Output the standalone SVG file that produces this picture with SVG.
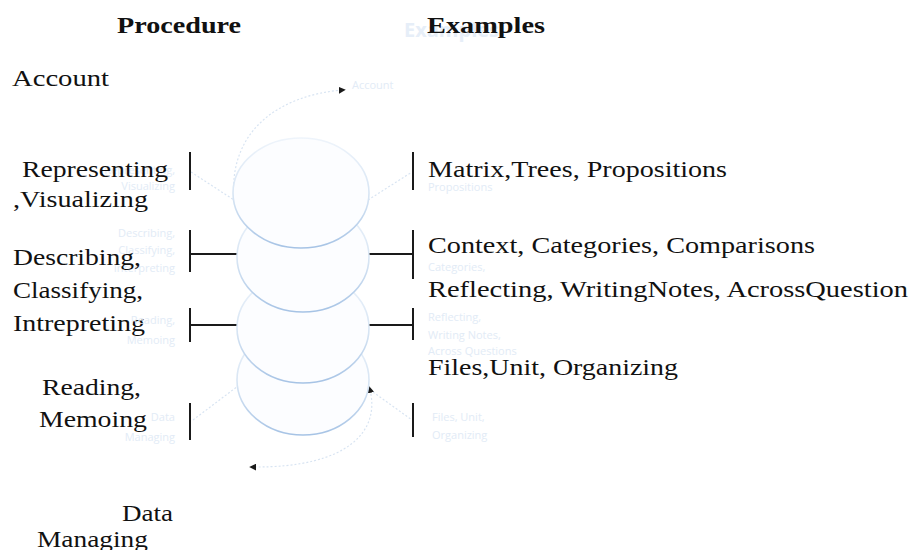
<svg xmlns="http://www.w3.org/2000/svg" width="911" height="550" viewBox="0 0 911 550">
  <defs>
    <linearGradient id="rim" x1="0" y1="0" x2="0" y2="1">
      <stop offset="0" stop-color="#eef4fb"/>
      <stop offset="0.55" stop-color="#d6e4f3"/>
      <stop offset="1" stop-color="#a6c3e5"/>
    </linearGradient>
    <marker id="tri" viewBox="0 0 10 10" refX="6" refY="5" markerWidth="7" markerHeight="7" orient="auto" markerUnits="userSpaceOnUse">
      <path d="M0,0 L10,5 L0,10 z" fill="#1a1a1a"/>
    </marker>
    <marker id="triStart" viewBox="0 0 10 10" refX="4" refY="5" markerWidth="7" markerHeight="7" orient="auto-start-reverse" markerUnits="userSpaceOnUse">
      <path d="M0,0 L10,5 L0,10 z" fill="#1a1a1a"/>
    </marker>
  </defs>
  <style>
    .t { font-family: "Liberation Serif", "Times New Roman", serif; font-size: 24px; fill: #111; }
    .h { font-family: "Liberation Serif", "Times New Roman", serif; font-size: 24px; font-weight: bold; fill: #111; }
    .g { font-family: "Open Sans", "Liberation Sans", sans-serif; font-size: 11px; fill: #e2ebf6; }
    .gl { text-anchor: end; }
    .disc { fill: #fcfdff; stroke: url(#rim); stroke-width: 1.6; }
    .bar { stroke: #1a1a1a; stroke-width: 2; fill: none; }
    .dot { stroke: #d8e4f2; stroke-width: 1.2; fill: none; stroke-dasharray: 2 2; }
  </style>
  <rect width="911" height="550" fill="#ffffff"/>

  <!-- column headings -->
  <g id="headings">
    <text class="g" x="404" y="37" style="font-size:20px;font-weight:bold;fill:#e6eef8">Examples</text>
    <text class="h" x="117" y="33" textLength="124" lengthAdjust="spacingAndGlyphs">Procedure</text>
    <text class="h" x="427" y="33" textLength="118" lengthAdjust="spacingAndGlyphs">Examples</text>
  </g>

  <!-- connectors: feedback arcs, level ticks, leader lines -->
  <g id="connectors">
    <path class="dot" d="M234 200 C228 130 280 95 343 90" marker-end="url(#tri)"/>
    <path class="dot" d="M370 390 C380 430 350 468 252 467" marker-start="url(#triStart)" marker-end="url(#tri)"/>
    <path class="dot" d="M191 172 L234 200"/>
    <path class="dot" d="M368 200 L412 172"/>
    <path class="dot" d="M193 420 L238 386"/>
    <path class="dot" d="M373 392 L412 420"/>
    <!-- left ticks -->
    <path class="bar" d="M190 152 V190"/>
    <path class="bar" d="M190 230 V272 M190 254 H237"/>
    <path class="bar" d="M190 308 V342 M190 325 H237"/>
    <path class="bar" d="M190 403 V440"/>
    <!-- right ticks -->
    <path class="bar" d="M413 152 V190"/>
    <path class="bar" d="M413 230 V279 M366 254 H413"/>
    <path class="bar" d="M413 308 V340 M366 325 H413"/>
    <path class="bar" d="M413 403 V437"/>
  </g>

  <!-- stacked discs, lowest drawn first -->
  <g id="discs">
    <ellipse class="disc" cx="303" cy="380" rx="66" ry="55"/>
    <ellipse class="disc" cx="303" cy="328" rx="66" ry="55"/>
    <ellipse class="disc" cx="303" cy="257" rx="66" ry="55"/>
    <ellipse class="disc" cx="301" cy="193" rx="68" ry="55"/>
  </g>

  <g id="node-account">
    <text class="t" x="12" y="86" textLength="97" lengthAdjust="spacingAndGlyphs">Account</text>
    <text class="g" x="352" y="89">Account</text>
  </g>

  <g id="node-representing">
    <text class="g gl" x="175" y="174">Representing,</text>
    <text class="g gl" x="175" y="190">Visualizing</text>
    <text class="t" x="22" y="177" textLength="146" lengthAdjust="spacingAndGlyphs">Representing</text>
    <text class="t" x="13" y="207" textLength="135" lengthAdjust="spacingAndGlyphs">,Visualizing</text>
    <text class="g" x="428" y="191">Propositions</text>
    <text class="t" x="428" y="177" textLength="299" lengthAdjust="spacingAndGlyphs">Matrix,Trees, Propositions</text>
  </g>

  <g id="node-describing">
    <text class="g gl" x="175" y="237">Describing,</text>
    <text class="g gl" x="175" y="254">Classifying,</text>
    <text class="g gl" x="175" y="272">Interpreting</text>
    <text class="t" x="13" y="265" textLength="128" lengthAdjust="spacingAndGlyphs">Describing,</text>
    <text class="t" x="13" y="298" textLength="130" lengthAdjust="spacingAndGlyphs">Classifying,</text>
    <text class="t" x="13" y="331" textLength="132" lengthAdjust="spacingAndGlyphs">Intrepreting</text>
    <text class="g" x="428" y="271">Categories,</text>
    <text class="t" x="428" y="253" textLength="387" lengthAdjust="spacingAndGlyphs">Context, Categories, Comparisons</text>
  </g>

  <g id="node-reading">
    <text class="g gl" x="175" y="324">Reading,</text>
    <text class="g gl" x="175" y="344">Memoing</text>
    <text class="t" x="42" y="395" textLength="99" lengthAdjust="spacingAndGlyphs">Reading,</text>
    <text class="t" x="39" y="427" textLength="108" lengthAdjust="spacingAndGlyphs">Memoing</text>
    <text class="g" x="428" y="321">Reflecting,</text>
    <text class="g" x="428" y="339">Writing Notes,</text>
    <text class="g" x="428" y="355">Across Questions</text>
    <text class="t" x="428" y="297" textLength="480" lengthAdjust="spacingAndGlyphs">Reflecting, WritingNotes, AcrossQuestion</text>
  </g>

  <g id="node-data">
    <text class="g gl" x="175" y="421">Data</text>
    <text class="g gl" x="175" y="441">Managing</text>
    <text class="t" x="122" y="521" textLength="51" lengthAdjust="spacingAndGlyphs">Data</text>
    <text class="t" x="37" y="547" textLength="111" lengthAdjust="spacingAndGlyphs">Managing</text>
    <text class="g" x="432" y="421">Files, Unit,</text>
    <text class="g" x="432" y="439">Organizing</text>
    <text class="t" x="428" y="375" textLength="250" lengthAdjust="spacingAndGlyphs">Files,Unit, Organizing</text>
  </g>
</svg>
